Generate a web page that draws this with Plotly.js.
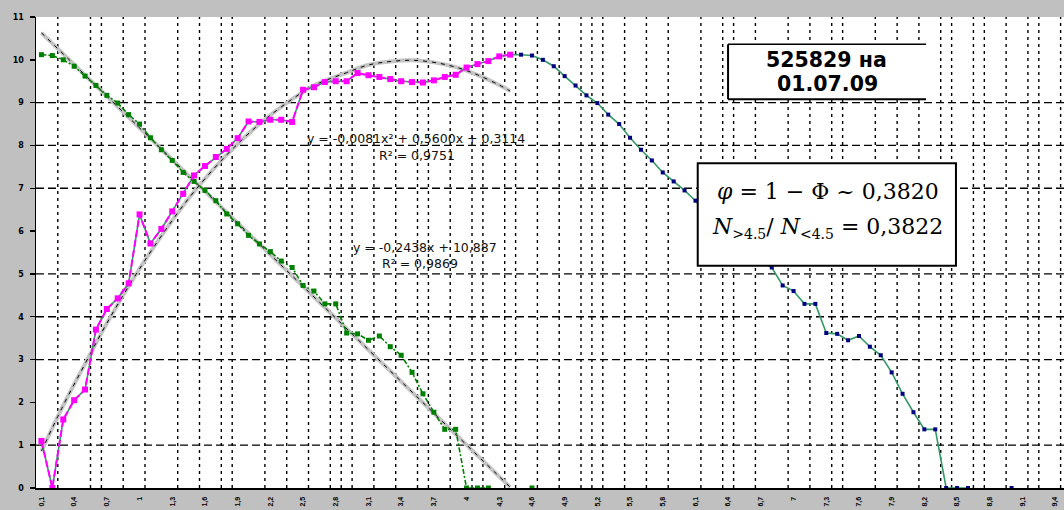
<!DOCTYPE html>
<html>
<head>
<meta charset="utf-8">
<script src="https://cdn.plot.ly/plotly-3.0.1.min.js"></script>
<style>html,body{margin:0;padding:0;background:#c0c0c0;}#chart{width:1064px;height:510px;}</style>
</head>
<body>
<div id="chart"></div>
<script>
// Category positions (x values)
const catsLeft = [0.1,0.2,0.3,0.4,0.5,0.6,0.7,0.8,0.9,1.0,1.1,1.2,1.3,1.4,1.5,1.6,1.7,1.8,1.9,2.0,2.1,2.2,2.3,2.4,2.5,2.6,2.7,2.8,2.9,3.0,3.1,3.2,3.3,3.4,3.5,3.6,3.7,3.8,3.9,4.0,4.1,4.2,4.3,4.4];
const catsFall = [0.1,0.2,0.3,0.4,0.5,0.6,0.7,0.8,0.9,1.0,1.1,1.2,1.3,1.4,1.5,1.6,1.7,1.8,1.9,2.0,2.1,2.2,2.3,2.4,2.5,2.6,2.7,2.8,2.9,3.0,3.1,3.2,3.3,3.4,3.5,3.6,3.7,3.8,3.9,4.0,4.1,4.2,4.3,4.4,4.5,4.6];
const catsRight = [4.5,4.6,4.7,4.8,4.9,5.0,5.1,5.2,5.3,5.4,5.5,5.6,5.7,5.8,5.9,6.0,6.1,6.2,6.3,6.4,6.5,6.6,6.7,6.8,6.9,7.0,7.1,7.2,7.3,7.4,7.5,7.6,7.7,7.8,7.9,8.0,8.1,8.2,8.3,8.4,8.5,8.6,8.7,8.8,8.9,9.0];

// Rising part (magenta), x = 0.1 .. 4.4
const risingY = [1.1,0,1.6,2.05,2.3,3.7,4.18,4.43,4.78,6.39,5.71,6.05,6.46,6.87,7.3,7.52,7.73,7.92,8.17,8.56,8.55,8.6,8.6,8.55,9.3,9.36,9.48,9.5,9.5,9.69,9.64,9.6,9.55,9.5,9.48,9.47,9.52,9.6,9.65,9.82,9.9,9.97,10.08,10.12];

// Falling part (values after 4.5), shown from 4.5 (blue) and again from 0.1 (green)
const fallingY = [10.12,10.1,10.0,9.85,9.62,9.4,9.17,8.99,8.72,8.5,8.18,7.9,7.65,7.37,7.16,6.95,6.71,6.4,6.17,5.9,5.7,5.52,5.3,5.15,4.73,4.6,4.3,4.3,3.62,3.6,3.45,3.55,3.3,3.1,2.7,2.2,1.77,1.37,1.37,0,0,0,null,null,null,0];

// Trend lines
const trendUpX = [0.1,0.3,0.5,0.7,1.0,1.3,1.5,1.8,2.1,2.4,2.6,2.9,3.1,3.3,3.5,3.7,3.9,4.1,4.3,4.4];
const trendUpY = [0.86,1.93,2.9,3.85,5.12,6.25,6.92,7.78,8.5,9.08,9.4,9.7,9.88,9.96,9.99,9.94,9.83,9.65,9.41,9.27];
const trendDownX = [0.1,4.4];
const trendDownY = [10.63,0.02];

// Tick labels
const xTickVals = [0.1,0.4,0.7,1.0,1.3,1.6,1.9,2.2,2.5,2.8,3.1,3.4,3.7,4.0,4.3,4.6,4.9,5.2,5.5,5.8,6.1,6.4,6.7,7.0,7.3,7.6,7.9,8.2,8.5,8.8,9.1,9.4];
const xTickText = ["0,1","0,4","0,7","1","1,3","1,6","1,9","2,2","2,5","2,8","3,1","3,4","3,7","4","4,3","4,6","4,9","5,2","5,5","5,8","6,1","6,4","6,7","7","7,3","7,6","7,9","8,2","8,5","8,8","9,1","9,4"];
const yTickVals = [0,1,2,3,4,5,6,7,8,9,10,11];

// Gridline positions as seen in the picture
const gridXVals = [0.25,0.55,0.65,0.85,1.05,1.35,1.55,1.75,1.85,2.15,2.35,2.55,2.75,2.85,2.95,3.15,3.35,3.55,3.65,3.85,4.05,4.15,4.35,4.45,4.65,4.85,5.05,5.15,5.25,5.45,5.65,5.85,6.15,6.35,6.45,6.65,6.95,7.15,7.35,7.45,7.75,7.95,8.15,8.35,8.45,8.65,8.75,8.95,9.15,9.25,9.45];
const gridYVals = [1,3,4,5,7,8,9];

// Texts
const eqPoly = 'y = -0,0081x² + 0,5600x + 0,3114';
const r2Poly = 'R² = 0,9751';
const eqLin = 'y = -0,2438x + 10,887';
const r2Lin = 'R² = 0,9869';
const stampLine1 = '525829 на';
const stampLine2 = '01.07.09';
const phiLine = '<i>φ</i> = 1 − Φ ~ 0,3820';
const ratioLine = '<i>N</i><sub><span style="font-size:14px">&gt;4.5</span></sub>/ <i>N</i><sub><span style="font-size:14px">&lt;4.5</span></sub> = 0,3822';

const blueX = catsLeft.concat(catsRight);
const blueY = risingY.concat(fallingY);

const traces = [
  {x: trendDownX, y: trendDownY, mode:'lines', line:{color:'#c4c4c4', width:4}, hoverinfo:'skip'},
  {x: trendUpX, y: trendUpY, mode:'lines', line:{color:'#c4c4c4', width:4, shape:'spline'}, hoverinfo:'skip'},
  {x: trendDownX, y: trendDownY, mode:'lines', line:{color:'#000000', width:1, dash:'4px,5px'}, hoverinfo:'skip'},
  {x: trendUpX, y: trendUpY, mode:'lines', line:{color:'#000000', width:1, dash:'4px,5px', shape:'spline'}, hoverinfo:'skip'},
  {x: blueX, y: blueY, mode:'lines+markers', line:{color:'#339966', width:1.6}, marker:{symbol:'square', size:4, color:'#000080'}, connectgaps:false},
  {x: catsFall, y: fallingY, mode:'lines+markers', line:{color:'#008000', width:1.6, dash:'5px,2px,2px,2px'}, marker:{symbol:'square', size:5, color:'#008000'}, connectgaps:false},
  {x: catsLeft, y: risingY, mode:'lines+markers', line:{color:'#ff00ff', width:2, dash:'7px,3px'}, marker:{symbol:'square', size:6, color:'#ff00ff'}}
];

const shapes = [];
gridXVals.forEach(v => shapes.push({type:'line', xref:'x', yref:'paper', x0:v, x1:v, y0:0, y1:1, layer:'below', line:{color:'#000000', width:1.4, dash:'3px,4px'}}));
gridYVals.forEach(v => shapes.push({type:'line', xref:'paper', yref:'y', x0:0, x1:1, y0:v, y1:v, layer:'below', line:{color:'#000000', width:1.3, dash:'8px,4px'}}));
// text boxes
shapes.push({type:'rect', xref:'paper', yref:'paper', x0:0.6732, x1:0.8658, y0:0.8253, y1:0.9420, layer:'above', fillcolor:'#ffffff', line:{width:0}});
shapes.push({type:'line', xref:'paper', yref:'paper', x0:0.6732, x1:0.6732, y0:0.8253, y1:0.9420, layer:'above', line:{color:'#000', width:2}});
shapes.push({type:'line', xref:'paper', yref:'paper', x0:0.6732, x1:0.8658, y0:0.9420, y1:0.9420, layer:'above', line:{color:'#000', width:1.5}});
shapes.push({type:'line', xref:'paper', yref:'paper', x0:0.6732, x1:0.8658, y0:0.8253, y1:0.8253, layer:'above', line:{color:'#000', width:2}});
shapes.push({type:'rect', xref:'paper', yref:'paper', x0:0.6437, x1:0.8949, y0:0.4720, y1:0.6894, layer:'above', fillcolor:'#ffffff', line:{color:'#000', width:2}});

const eqFont = {family:'DejaVu Sans', size:12.5, color:'#111'};
const stampFont = {family:'DejaVu Sans', size:20.5, color:'#000', weight:'bold'};
const mathFont = {family:'DejaVu Serif', size:22, color:'#000'};
function ann(x, y, text, font) {
  return {xref:'paper', yref:'paper', x:x, y:y, xanchor:'center', yanchor:'middle', text:text, showarrow:false, font:font};
}
const annotations = [
  ann(0.3692, 0.7410, eqPoly, eqFont),
  ann(0.3706, 0.7070, r2Poly, eqFont),
  ann(0.3784, 0.5096, eqLin, eqFont),
  ann(0.3735, 0.4777, r2Lin, eqFont),
  ann(0.7690, 0.9087, stampLine1, stampFont),
  ann(0.7700, 0.8577, stampLine2, stampFont),
  ann(0.7700, 0.6300, phiLine, mathFont),
  ann(0.7700, 0.5530, ratioLine, mathFont)
];

const layout = {
  width:1064, height:510,
  margin:{l:36, r:0, t:17, b:22, pad:0},
  paper_bgcolor:'#c0c0c0', plot_bgcolor:'#ffffff',
  showlegend:false,
  xaxis:{range:[0.05, 9.481], tickmode:'array', tickvals:xTickVals, ticktext:xTickText, tickangle:-90,
         showgrid:false, zeroline:false, showline:true, linecolor:'#000', linewidth:2, ticks:'',
         ticklabelstandoff:4, tickfont:{family:'Liberation Sans', size:7, color:'#000', weight:'bold'}},
  yaxis:{range:[0, 11], tickmode:'array', tickvals:yTickVals, showgrid:false, zeroline:false, showline:true,
         linecolor:'#000', linewidth:1.5, ticks:'outside', ticklen:5, tickwidth:1.5, tickcolor:'#000',
         ticklabelstandoff:4, tickfont:{family:'DejaVu Sans', size:8, color:'#000', weight:'bold'}},
  shapes:shapes,
  annotations:annotations
};

Plotly.newPlot('chart', traces, layout, {displayModeBar:false, staticPlot:true});
</script>
</body>
</html>
